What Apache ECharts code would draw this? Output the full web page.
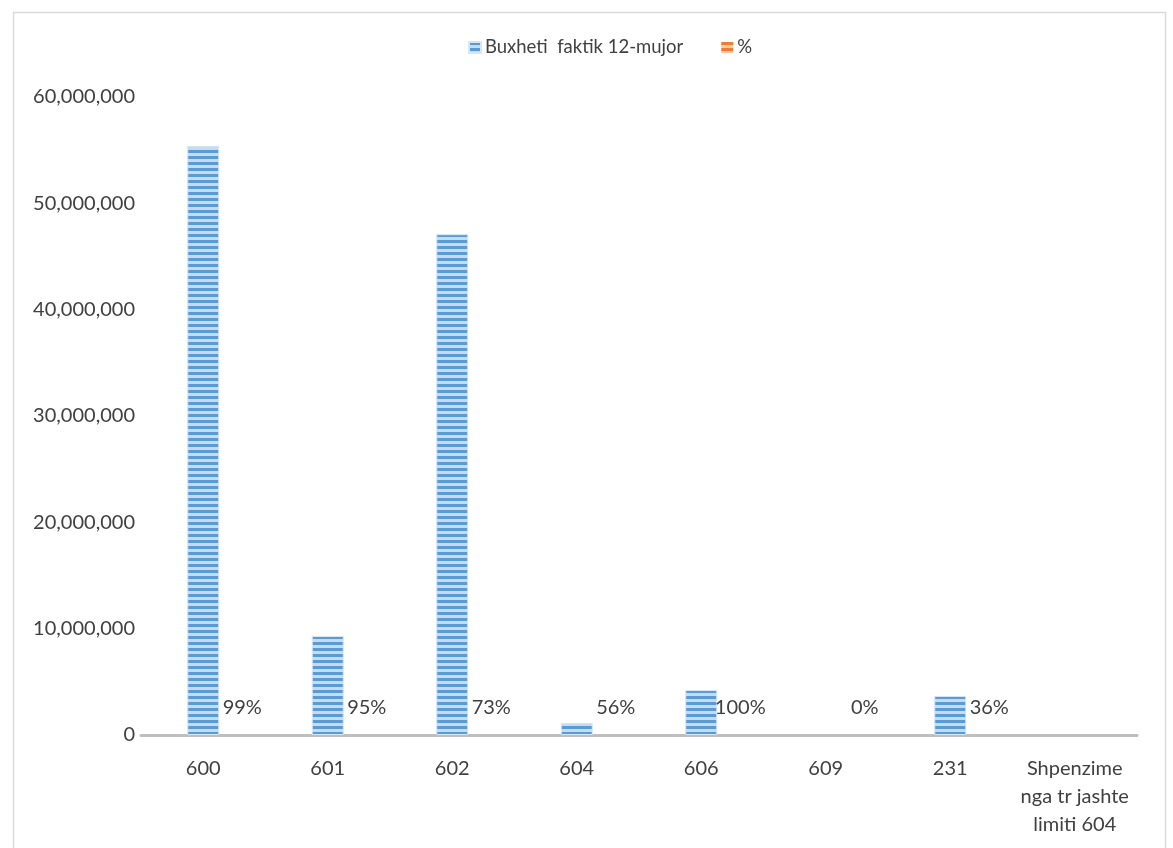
<!DOCTYPE html>
<html>
<head>
<meta charset="utf-8">
<script src="https://cdn.jsdelivr.net/npm/echarts@6/dist/echarts.min.js"></script>
<style>
html,body{margin:0;padding:0;background:#fff;}
#chart{width:1173px;height:848px;}
</style>
</head>
<body>
<div id="chart"></div>
<script>
const categories = ['600', '601', '602', '604', '606', '609', '231', 'Shpenzime\nnga tr jashte\nlimiti 604'];
const budgetValues = [55400000, 9310000, 47100000, 1130000, 4230000, 0, 3670000, 0];
const percentValues = [0.99, 0.95, 0.73, 0.56, 1.00, 0, 0.36, null];
const yTicks = { min: 0, max: 60000000, interval: 10000000 };
const seriesNames = ['Buxheti  faktik 12-mujor', '%'];

function stripes(c1, c2) {
  const cv = document.createElement('canvas');
  cv.width = 4; cv.height = 6;
  const ctx = cv.getContext('2d');
  ctx.fillStyle = c2; ctx.fillRect(0, 0, 4, 6);
  ctx.fillStyle = c1; ctx.fillRect(0, 0, 4, 3);
  return { image: cv, repeat: 'repeat' };
}
const bluePat = stripes('#5B9BD5', '#C4DBF0');
const orangePat = stripes('#ED7D31', '#F8C9A8');

const FONT = 'Lato, "Open Sans", sans-serif';
const chart = echarts.init(document.getElementById('chart'), null, { renderer: 'canvas' });
chart.setOption({
  animation: false,
  graphic: [{
    type: 'rect', left: 11, top: 10, z: -10,
    shape: { width: 1152, height: 900 },
    style: { fill: 'none', stroke: '#D9D9D9', lineWidth: 1.5 }
  }],
  legend: {
    top: 38, left: 468, padding: 0,
    icon: 'rect', itemWidth: 12, itemHeight: 11, itemGap: 38,
    textStyle: { fontFamily: FONT, fontSize: 18.5, color: '#404040', padding: [0, 0, 0, -1] },
    data: [
      { name: seriesNames[0], itemStyle: { color: bluePat } },
      { name: seriesNames[1], itemStyle: { color: orangePat } }
    ]
  },
  grid: { left: 141, right: 36, top: 97, bottom: 113, containLabel: false },
  xAxis: [{
    type: 'category', data: categories,
    axisLine: { lineStyle: { color: '#BFBFBF', width: 3 } },
    axisTick: { show: false },
    axisLabel: { fontFamily: FONT, fontSize: 20, color: '#404040', margin: 20, lineHeight: 28, interval: 0 }
  }, {
    type: 'category', data: categories, show: false
  }],
  yAxis: {
    type: 'value', min: yTicks.min, max: yTicks.max, interval: yTicks.interval,
    splitLine: { show: false },
    axisLine: { show: false }, axisTick: { show: false },
    axisLabel: {
      fontFamily: FONT, fontSize: 20, color: '#404040', margin: 6,
      formatter: v => v.toLocaleString('en-US')
    }
  },
  series: [{
    name: seriesNames[0], type: 'bar', xAxisIndex: 0, barWidth: 32,
    data: budgetValues.map(v => ({ value: v, itemStyle: v ? {} : { borderWidth: 0 } })),
    itemStyle: { color: bluePat, borderColor: '#D6E6F5', borderWidth: 1 }
  }, {
    name: seriesNames[1], type: 'bar', xAxisIndex: 1, barWidth: 32,
    data: percentValues,
    itemStyle: { color: orangePat },
    label: {
      show: true, position: [55, -27], align: 'center', verticalAlign: 'middle',
      fontFamily: FONT, fontSize: 20, color: '#404040',
      formatter: p => (p.value == null ? '' : Math.round(p.value * 100) + '%')
    }
  }]
});
</script>
</body>
</html>
